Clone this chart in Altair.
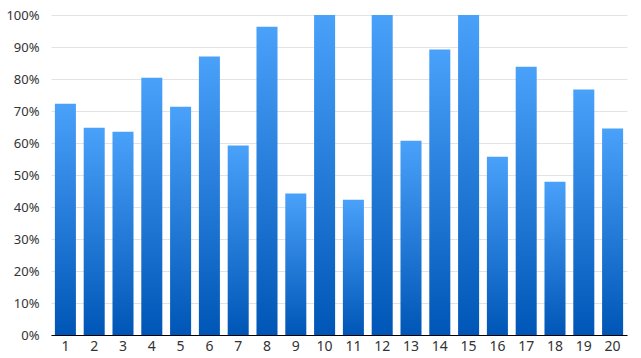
import altair as alt
import pandas as pd

categories = [str(i) for i in range(1, 21)]
values = [72.3, 64.8, 63.5, 80.4, 71.3, 87.0, 59.2, 96.3, 44.2, 100.0,
          42.3, 100.0, 60.7, 89.2, 100.0, 55.7, 83.8, 47.9, 76.7, 64.5]

df = pd.DataFrame({"cat": categories, "val": [v / 100 for v in values]})

gradient = alt.Gradient(
    gradient="linear",
    stops=[alt.GradientStop(color="#4aa1fa", offset=0),
           alt.GradientStop(color="#0056b6", offset=1)],
    x1=0, x2=0, y1=0, y2=1,
)

chart = alt.Chart(df).mark_bar(color=gradient).encode(
    x=alt.X("cat:N", sort=categories, title=None,
            scale=alt.Scale(paddingInner=0.27, paddingOuter=0.135),
            axis=alt.Axis(labelAngle=0, ticks=False, domainColor="#000000",
                          domainWidth=1, labelFontSize=14, labelColor="#333333",
                          labelFont="Noto Sans", labelPadding=4, grid=False)),
    y=alt.Y("val:Q", title=None,
            scale=alt.Scale(domain=[0, 1], nice=False),
            axis=alt.Axis(format=".0%", values=[i / 10 for i in range(11)],
                          domain=False, ticks=False, labelFontSize=13,
                          labelColor="#333333", labelFont="Noto Sans",
                          labelPadding=12, gridColor="#e3e3e3", gridWidth=1)),
).properties(
    width=576, height=320,
    autosize=alt.AutoSizeParams(type="none"),
    padding={"left": 51, "top": 15, "right": 14, "bottom": 23},
).configure_view(stroke=None)

chart.save("out.html", embed_options={"renderer": "svg", "actions": False})
